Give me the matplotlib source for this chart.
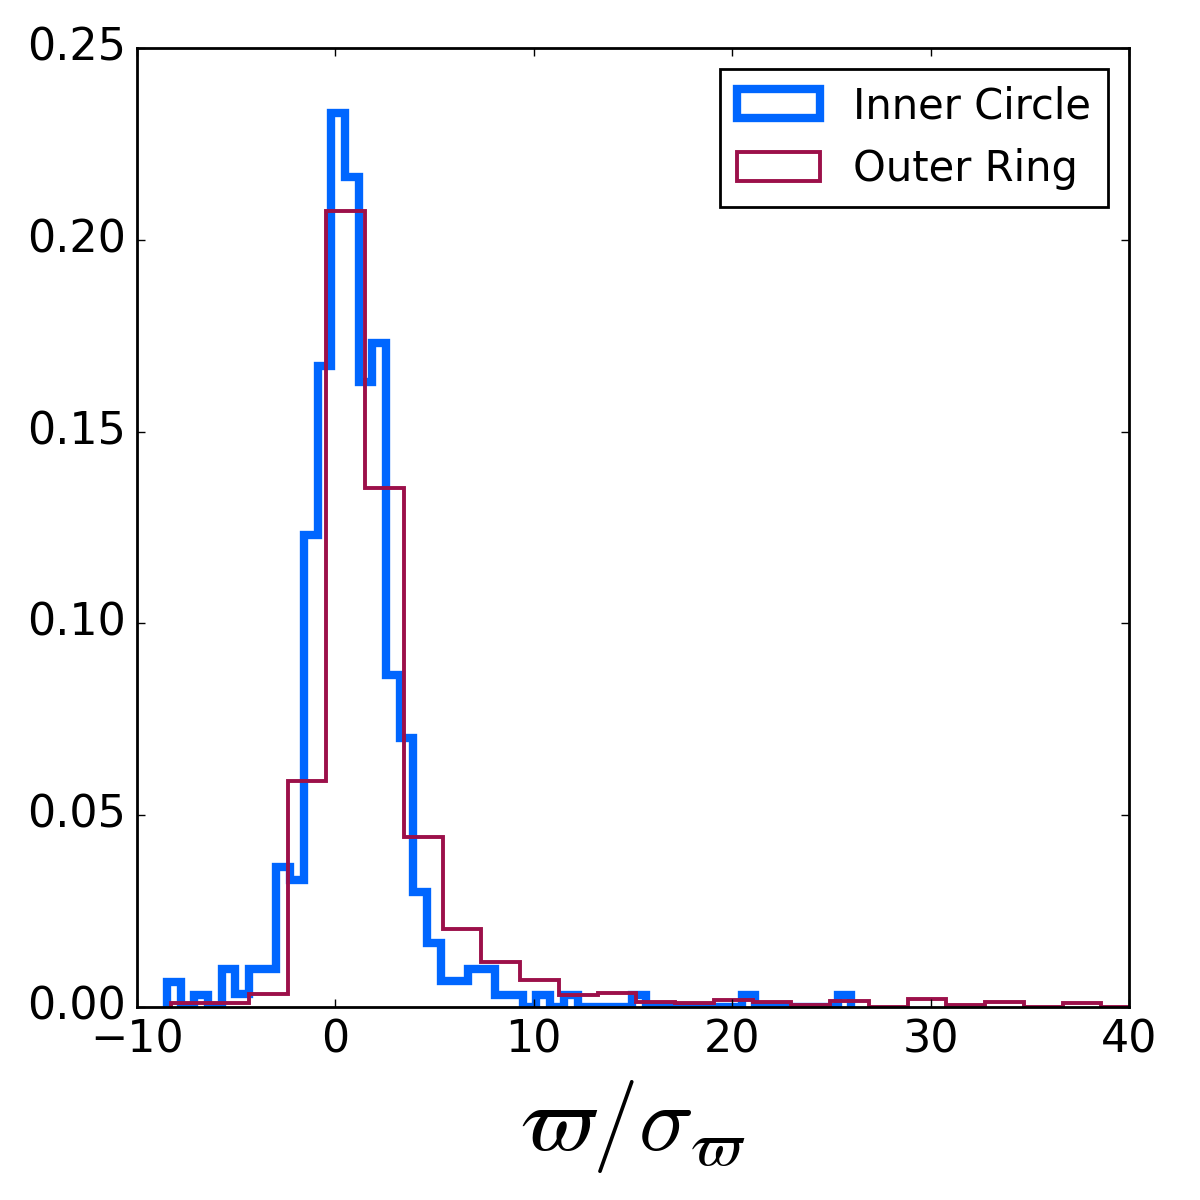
import numpy as np
import matplotlib
matplotlib.use("Agg")
import matplotlib.pyplot as plt

# histogram values (density-normalised)
inner_edges = np.linspace(-8.49, 26.0, 51)
inner_heights = [0.0065, 0.0, 0.0032, 0.0, 0.0098, 0.0034, 0.0098, 0.0098, 0.0366, 0.033,
                 0.123, 0.167, 0.233, 0.2165, 0.163, 0.173, 0.0865, 0.0702, 0.030, 0.0166,
                 0.0067, 0.0067, 0.0098, 0.0098, 0.0032, 0.0032, 0.0, 0.0032, 0.0, 0.0032,
                 0.0, 0.0, 0.0, 0.0, 0.0032, 0.0, 0.0, 0.0, 0.0, 0.0,
                 0.0, 0.0, 0.0032, 0.0, 0.0, 0.0, 0.0, 0.0, 0.0, 0.0032]

outer_edges = np.linspace(-8.27, 40.56, 26)
outer_heights = [0.001, 0.001, 0.0034, 0.059, 0.2076, 0.1352, 0.0444, 0.0203, 0.0117, 0.0070,
                 0.0031, 0.0037, 0.0014, 0.001, 0.0019, 0.0012, 0.0006, 0.0016, 0.0, 0.002,
                 0.0005, 0.0012, 0.0, 0.001, 0.0]

plt.style.use('classic')
plt.rcParams['figure.facecolor'] = 'white'
plt.rcParams['savefig.facecolor'] = 'white'

fig = plt.figure(figsize=(6, 6), dpi=200)
ax = fig.add_axes([0.1142, 0.1608, 0.8266, 0.7992])

ax.hist(inner_edges[:-1], bins=inner_edges, weights=inner_heights, histtype='step',
        color='#0066ff', lw=3, label='Inner Circle')
ax.hist(outer_edges[:-1], bins=outer_edges, weights=outer_heights, histtype='step',
        color='#9c104a', lw=1.4, label='Outer Ring')

ax.set_xlim(-10, 40)
ax.set_ylim(0, 0.25)
ax.set_yticks([0.0, 0.05, 0.10, 0.15, 0.20, 0.25])
ax.set_yticklabels(['0.00', '0.05', '0.10', '0.15', '0.20', '0.25'])
ax.tick_params(labelsize=16, length=3)
ax.set_xlabel(r'$\varpi/\sigma_\varpi$', fontsize=33, labelpad=6)

ax.legend(loc='upper right', fontsize=15)

fig.savefig('out.png', dpi=200)
